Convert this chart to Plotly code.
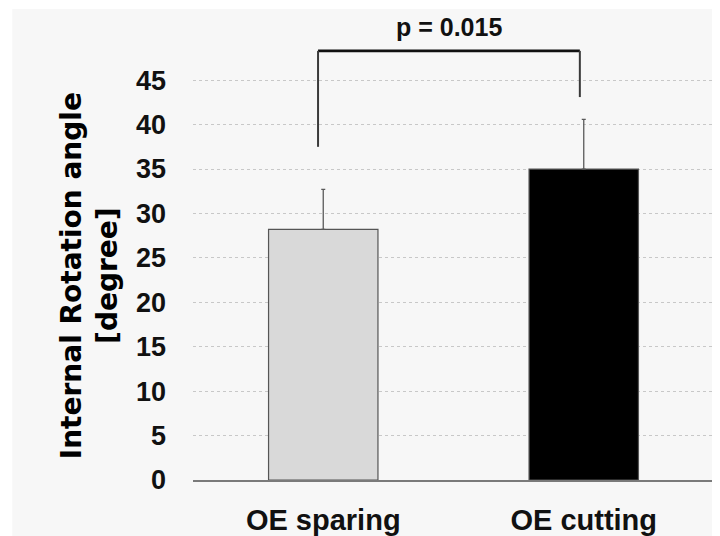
import plotly.graph_objects as go

categories = ["OE sparing", "OE cutting"]
means = [28.2, 35.0]
sd_upper = [4.5, 5.6]
bar_colors = ["#d9d9d9", "#000000"]
y_ticks = [0, 5, 10, 15, 20, 25, 30, 35, 40, 45]

# significance bracket (category index positions, data y values)
bracket_x = [-0.02, 0.985]
bracket_top = 48.3
bracket_bottoms = [37.5, 43.1]
p_text = "p = 0.015"
p_y = 51.0

fig = go.Figure()
fig.add_trace(go.Bar(
    x=categories, y=means, width=0.42,
    marker=dict(color=bar_colors, line=dict(color="#555555", width=1.2)),
    error_y=dict(type="data", array=sd_upper, arrayminus=[0, 0], symmetric=False,
                 color="#5a5a5a", thickness=1.3, width=2),
    showlegend=False,
))

# background panel
fig.add_shape(type="rect", xref="paper", yref="paper",
              x0=-0.3468, x1=1.05, y0=-0.2, y1=1.0195,
              fillcolor="#f7f7f7", line=dict(width=0), layer="below")

# bracket
fig.add_shape(type="line", xref="x", yref="y", x0=bracket_x[0], x1=bracket_x[1],
              y0=bracket_top, y1=bracket_top, line=dict(color="#111111", width=2.6))
fig.add_shape(type="line", xref="x", yref="y", x0=bracket_x[0], x1=bracket_x[0],
              y0=bracket_bottoms[0], y1=bracket_top, line=dict(color="#3a3a3a", width=2))
fig.add_shape(type="line", xref="x", yref="y", x0=bracket_x[1], x1=bracket_x[1],
              y0=bracket_bottoms[1], y1=bracket_top, line=dict(color="#3a3a3a", width=2))

fig.add_annotation(x=sum(bracket_x) / 2, y=p_y, xref="x", yref="y", text=p_text,
                   showarrow=False, xanchor="center", yanchor="middle",
                   font=dict(family="Liberation Sans, Arial", size=25, color="#111111", weight="bold"))
fig.add_annotation(x=-0.1985, y=23, xref="paper", yref="y",
                   text="<b>Internal Rotation angle<br>[degree]</b>", textangle=-90,
                   showarrow=False, xanchor="center", yanchor="middle",
                   font=dict(family="DejaVu Sans", size=28, color="#000000"))

fig.update_layout(
    width=712, height=528, autosize=False,
    margin=dict(l=185, r=6, t=10, b=56, autoexpand=False),
    paper_bgcolor="#ffffff", plot_bgcolor="rgba(0,0,0,0)",
    font=dict(family="Liberation Sans, Arial", color="#111111"),
    xaxis=dict(range=[-0.5, 1.5], showline=True, linecolor="#7a7a7a", linewidth=2,
               showgrid=False, ticks="", ticklabelstandoff=13, automargin=False,
               tickfont=dict(family="Liberation Sans, Arial", size=29, color="#111111", weight="bold")),
    yaxis=dict(range=[0, 52], tickvals=y_ticks, showgrid=True, gridcolor="#c8c8c8",
               griddash="dot", gridwidth=1, zeroline=False, showline=False, ticks="",
               ticklabelstandoff=26, automargin=False,
               tickfont=dict(family="Liberation Sans, Arial", size=27, color="#111111", weight="bold")),
)

fig.write_html("out.html")
